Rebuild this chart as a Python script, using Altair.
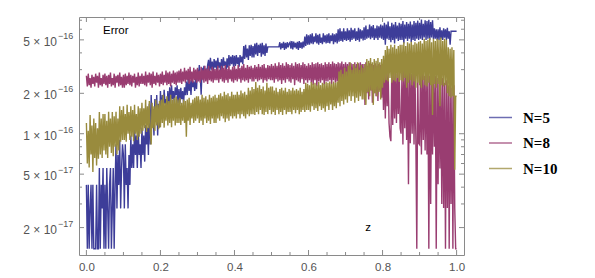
import altair as alt
import pandas as pd

# Error values are written in units of 1e-16
UNIT = 1e-16

# sampling grid in z (0 .. 1, step 0.0025)
z_values = [round(i * 0.0025, 4) for i in range(401)]

err_n5 = [
    0.416, 0.139, 0.416, 0.139, 0.278, 0.416, 0.139, 0.416, 0.139, 0.139, 0.139, 0.416, 0.139, 0.139, 0.555, 0.139, 0.416, 0.278, 0.555, 0.139,
    0.416, 0.139, 0.555, 0.278, 0.139, 0.416, 0.555, 0.139, 0.278, 0.555, 0.139, 0.416, 0.833, 0.278, 0.694, 0.416, 0.9, 0.278, 0.555, 0.833,
    0.694, 0.278, 0.833, 0.416, 0.555, 0.278, 0.694, 0.416, 0.971, 0.555, 0.833, 0.555, 1.11, 0.694, 0.971, 0.555, 1.07, 0.694, 0.833, 0.555,
    1.11, 0.694, 0.971, 0.62, 1.16, 0.833, 1.11, 0.694, 1.67, 0.833, 1.94, 1.11, 1.53, 0.971, 1.81, 1.25, 1.94, 0.971, 1.67, 1.11,
    2.08, 1.39, 1.94, 1.53, 2.12, 1.67, 1.81, 1.39, 2.08, 1.53, 2.22, 1.67, 2.29, 1.81, 2.08, 1.67, 2.22, 1.94, 2.29, 1.67,
    2.15, 1.67, 2.2, 1.81, 2.08, 1.67, 2.22, 1.94, 2.45, 1.94, 2.6, 2.08, 2.5, 1.94, 2.6, 2.22, 2.45, 2.08, 2.55, 2.15,
    3.0, 2.6, 3.25, 2.7, 1.95, 3.1, 2.75, 3.2, 2.65, 3.05, 2.8, 3.25, 3.55, 2.9, 3.67, 3.0, 3.45, 2.9, 3.6, 3.1,
    3.5, 2.95, 3.67, 3.1, 3.4, 2.9, 3.6, 3.0, 3.7, 3.2, 3.45, 2.95, 3.65, 3.1, 3.86, 3.2, 3.75, 3.3, 3.86, 3.15,
    3.8, 3.2, 3.86, 3.3, 3.7, 3.15, 3.85, 3.4, 3.75, 3.3, 4.5, 3.6, 4.6, 3.7, 4.3, 3.55, 4.55, 3.8, 4.6, 3.7,
    4.5, 3.7, 4.7, 3.9, 4.76, 3.8, 4.6, 4.0, 4.7, 3.75, 4.76, 3.9, 4.55, 3.8, 4.7, 4.0, 4.43, 4.43, 4.43, 4.43,
    4.43, 4.43, 4.43, 4.43, 4.43, 4.43, 4.43, 4.43, 4.43, 4.8, 4.25, 4.7, 4.35, 4.83, 4.21, 4.75, 4.3, 4.8, 4.4, 4.7,
    4.8, 4.3, 4.9, 4.25, 4.85, 4.4, 4.75, 4.3, 4.83, 4.21, 4.9, 4.35, 4.8, 4.3, 4.85, 4.4, 5.3, 4.5, 5.5, 4.6,
    5.4, 4.6, 5.5, 4.7, 5.6, 4.65, 5.3, 4.8, 5.6, 4.7, 5.45, 4.6, 5.55, 4.75, 5.2, 4.65, 5.6, 4.8, 5.4, 4.7,
    5.5, 4.75, 5.6, 4.7, 5.4, 4.9, 5.6, 4.65, 5.5, 4.8, 5.6, 4.7, 6.0, 4.85, 6.1, 4.9, 5.8, 4.85, 6.1, 5.0,
    5.8, 4.9, 6.1, 5.0, 5.9, 4.85, 6.15, 5.0, 5.95, 5.1, 6.1, 4.9, 5.8, 5.0, 6.15, 4.85, 6.0, 5.1, 5.9, 4.95,
    6.2, 5.0, 6.4, 5.1, 6.0, 5.2, 6.5, 5.05, 6.3, 5.2, 6.45, 5.0, 6.1, 5.15, 6.4, 5.0, 6.3, 5.2, 6.5, 5.1,
    6.4, 5.0, 6.7, 4.6, 6.5, 5.1, 6.85, 5.0, 6.3, 4.8, 6.7, 5.0, 6.5, 4.7, 6.8, 5.1, 6.4, 4.9, 6.7, 5.0,
    6.6, 5.0, 6.9, 4.7, 6.5, 5.1, 6.8, 4.9, 6.6, 5.1, 6.85, 4.8, 6.5, 5.0, 6.9, 4.9, 6.7, 5.1, 6.95, 5.0,
    6.7, 5.1, 7.1, 5.0, 6.6, 5.2, 7.0, 5.0, 6.9, 5.1, 7.05, 5.0, 6.8, 5.2, 7.0, 5.05, 6.1, 5.1, 6.0, 5.0,
    6.0, 5.0, 6.2, 5.1, 5.9, 5.0, 6.1, 5.2, 6.0, 5.0, 6.15, 5.1, 5.8, 4.6, 5.8, 5.8, 5.8, 5.8, 5.8, 5.8,
    5.8,
]

err_n8 = [
    2.7, 2.25, 2.8, 2.3, 2.6, 2.2, 2.75, 2.35, 2.65, 2.25, 2.8, 2.4, 2.7, 2.2, 2.85, 2.3, 2.6, 2.25, 2.75, 2.35,
    2.8, 2.3, 2.7, 2.2, 2.75, 2.35, 2.85, 2.25, 2.6, 2.3, 2.8, 2.2, 2.7, 2.4, 2.75, 2.25, 2.85, 2.3, 2.65, 2.2,
    2.75, 2.2, 2.8, 2.3, 2.7, 2.35, 2.85, 2.3, 2.75, 2.25, 2.7, 2.4, 2.8, 2.2, 2.65, 2.3, 2.85, 2.25, 2.7, 2.35,
    2.8, 2.35, 2.7, 2.3, 2.9, 2.25, 2.75, 2.4, 2.85, 2.3, 2.8, 2.2, 2.9, 2.35, 2.7, 2.3, 2.85, 2.4, 2.75, 2.25,
    2.8, 2.35, 2.9, 2.3, 2.75, 2.4, 2.95, 2.3, 2.85, 2.35, 2.9, 2.25, 2.8, 2.4, 2.95, 2.35, 2.85, 2.3, 2.9, 2.4,
    2.95, 2.4, 3.05, 2.35, 2.9, 2.45, 3.1, 2.4, 2.95, 2.5, 3.05, 2.35, 3.15, 2.45, 2.9, 2.4, 3.1, 2.5, 3.0, 2.4,
    3.1, 2.45, 2.95, 2.4, 3.15, 2.5, 3.0, 2.4, 3.2, 2.45, 3.05, 2.35, 3.2, 2.5, 2.95, 2.45, 3.15, 2.4, 3.05, 2.5,
    3.05, 2.5, 3.2, 2.4, 3.0, 2.55, 3.2, 2.45, 3.1, 2.4, 3.25, 2.5, 3.05, 2.4, 3.2, 2.55, 3.0, 2.45, 3.15, 2.4,
    3.2, 2.5, 3.05, 2.45, 3.25, 2.55, 3.1, 2.4, 3.2, 2.5, 3.3, 2.45, 3.1, 2.5, 3.25, 2.4, 3.15, 2.55, 3.2, 2.45,
    3.1, 2.45, 3.25, 2.55, 3.15, 2.45, 3.3, 2.5, 3.15, 2.55, 3.25, 2.4, 3.3, 2.5, 3.1, 2.45, 3.25, 2.55, 3.2, 2.5,
    3.3, 2.5, 3.2, 2.4, 3.35, 2.55, 3.2, 2.45, 3.4, 2.5, 3.25, 2.35, 3.35, 2.5, 3.2, 2.4, 3.4, 2.55, 3.3, 2.45,
    3.25, 2.4, 3.35, 2.55, 3.2, 2.3, 3.4, 2.5, 3.3, 2.45, 3.35, 2.4, 3.25, 2.55, 3.4, 2.35, 3.3, 2.5, 3.2, 2.4,
    3.35, 2.5, 3.25, 2.4, 3.4, 2.3, 3.3, 2.5, 3.35, 2.25, 3.4, 2.45, 3.3, 2.4, 3.35, 2.5, 3.25, 2.3, 3.4, 2.45,
    3.3, 2.45, 3.4, 2.5, 3.3, 2.35, 3.45, 2.5, 3.35, 2.4, 3.3, 2.45, 3.4, 2.3, 3.35, 2.5, 3.45, 2.4, 3.3, 2.35,
    3.4, 2.5, 3.3, 2.45, 3.4, 2.3, 3.35, 2.4, 3.3, 2.2, 3.4, 2.35, 3.3, 2.45, 3.35, 2.2, 3.4, 2.4, 3.3, 2.3,
    3.3, 1.64, 3.4, 2.0, 3.2, 1.8, 3.35, 2.1, 3.3, 1.7, 3.25, 2.0, 3.35, 1.9, 3.2, 1.75, 3.3, 2.1, 3.25, 1.85,
    3.2, 1.5, 3.0, 1.3, 3.1, 1.6, 2.9, 1.2, 0.95, 0.88, 3.1, 1.16, 2.9, 1.3, 3.0, 1.2, 2.8, 1.4, 3.0, 1.1,
    1.0, 2.9, 0.83, 3.0, 1.1, 2.8, 0.9, 2.9, 0.42, 3.0, 0.85, 2.8, 1.0, 2.9, 0.83, 3.0, 0.9, 0.139, 2.8, 0.85,
    0.83, 2.8, 0.7, 2.9, 0.9, 2.7, 0.75, 2.9, 0.7, 2.8, 0.139, 2.7, 0.30, 2.8, 0.7, 2.6, 0.8, 2.7, 0.139, 2.6,
    0.42, 2.6, 0.55, 2.5, 0.3, 2.6, 0.28, 2.4, 0.139, 2.5, 0.28, 2.3, 0.139, 2.4, 0.3, 2.2, 0.139, 2.3, 0.28, 0.139,
    0.139,
]

err_n10 = [
    1.2, 0.6, 1.05, 0.56, 1.38, 0.7, 1.15, 0.52, 1.3, 0.66, 1.2, 0.58, 1.1, 0.65, 1.45, 0.7, 1.3, 0.66, 1.4, 0.75,
    1.4, 0.7, 1.25, 0.66, 1.46, 0.8, 1.3, 0.72, 1.45, 0.68, 1.35, 0.8, 1.46, 0.7, 1.3, 0.75, 1.6, 0.87, 1.5, 0.9,
    1.6, 0.9, 1.4, 0.87, 1.64, 1.0, 1.45, 0.9, 1.6, 0.95, 1.5, 0.88, 1.64, 1.0, 1.4, 0.9, 1.6, 0.95, 1.55, 1.0,
    1.7, 1.05, 1.55, 1.1, 1.79, 1.03, 1.6, 1.1, 1.75, 1.05, 0.83, 1.7, 1.1, 1.6, 1.05, 1.79, 1.15, 1.65, 1.08, 1.75,
    1.12, 1.8, 1.2, 1.95, 1.11, 1.7, 1.25, 1.9, 1.15, 1.75, 1.2, 1.95, 1.12, 1.8, 1.25, 1.85, 1.15, 1.9, 1.2, 1.8,
    1.2, 1.85, 1.16, 1.7, 1.25, 1.8, 1.2, 1.75, 0.95, 1.8, 1.25, 1.85, 1.16, 1.7, 1.3, 1.8, 1.2, 1.85, 1.25, 1.9,
    1.3, 1.9, 1.2, 1.8, 1.25, 1.95, 1.16, 1.85, 1.3, 1.9, 1.2, 1.8, 1.25, 1.95, 1.18, 1.85, 1.3, 1.9, 1.2, 1.95,
    1.2, 1.85, 1.3, 1.95, 1.25, 2.0, 1.35, 1.9, 1.3, 2.05, 1.22, 1.95, 1.3, 2.0, 1.25, 1.9, 1.35, 2.05, 1.3, 1.95,
    1.35, 1.95, 1.3, 2.05, 1.4, 1.95, 1.3, 2.1, 1.4, 2.0, 1.35, 2.05, 1.3, 1.95, 1.4, 2.2, 1.35, 2.1, 1.4, 2.23,
    1.4, 2.15, 1.38, 2.43, 1.45, 2.2, 1.4, 2.3, 1.5, 2.15, 1.4, 2.25, 1.38, 2.1, 1.45, 2.4, 1.4, 2.2, 1.5, 2.25,
    1.4, 2.25, 1.45, 2.1, 1.38, 2.2, 1.5, 2.05, 1.4, 2.15, 1.45, 2.2, 1.38, 2.1, 1.5, 2.2, 1.4, 2.05, 1.45, 2.15,
    1.45, 2.1, 1.4, 2.2, 1.5, 2.1, 1.42, 2.15, 1.5, 2.1, 1.4, 2.2, 1.45, 2.05, 1.5, 2.15, 1.45, 2.4, 1.5, 2.35,
    1.5, 2.3, 1.46, 2.43, 1.6, 2.35, 1.5, 2.4, 1.55, 2.3, 1.48, 2.43, 1.6, 2.3, 1.5, 2.4, 1.55, 2.35, 1.46, 2.43,
    1.6, 2.4, 1.5, 2.45, 1.65, 2.35, 1.5, 2.45, 1.6, 2.4, 1.55, 2.45, 1.7, 2.9, 1.6, 3.0, 1.75, 2.8, 1.65, 3.1,
    1.8, 2.9, 1.7, 3.2, 1.9, 3.4, 1.75, 3.0, 1.9, 3.3, 1.7, 3.1, 1.85, 3.4, 1.75, 3.0, 1.9, 3.25, 1.8, 3.1,
    1.8, 3.3, 1.64, 3.6, 2.05, 3.5, 1.9, 3.67, 2.1, 3.4, 1.64, 3.6, 2.0, 3.5, 1.9, 3.67, 2.05, 3.4, 1.8, 3.6,
    2.2, 3.8, 2.4, 4.2, 2.5, 4.5, 2.45, 4.3, 2.6, 4.6, 2.4, 4.4, 2.5, 4.6, 2.45, 4.3, 2.6, 4.5, 2.43, 4.6,
    2.5, 4.6, 2.45, 4.8, 2.6, 4.5, 2.2, 4.8, 2.4, 4.7, 2.5, 4.83, 2.3, 4.6, 2.45, 4.8, 2.2, 4.7, 2.4, 4.83,
    2.3, 4.9, 2.2, 4.7, 2.5, 5.1, 2.3, 4.9, 2.25, 5.0, 2.4, 5.17, 2.3, 4.8, 1.38, 5.1, 2.35, 4.9, 2.2, 5.1,
    2.35, 5.0, 1.6, 5.2, 2.3, 4.9, 2.25, 5.1, 2.3, 5.0, 2.0, 4.4, 1.9, 4.3, 1.85, 4.4, 1.9, 4.2, 0.54, 1.9,
    1.9,
]

series_names = ["N=5", "N=8", "N=10"]
series_colors = ["#3D3D99", "#993D71", "#998B3D"]

x_major = [0.0, 0.2, 0.4, 0.6, 0.8, 1.0]
x_minor = [0.05, 0.1, 0.15, 0.25, 0.3, 0.35, 0.45, 0.5, 0.55,
           0.65, 0.7, 0.75, 0.85, 0.9, 0.95]
y_major = [2e-17, 5e-17, 1e-16, 2e-16, 5e-16]
y_mantissa = ["2 × 10", "5 × 10", "1 × 10", "2 × 10", "5 × 10"]
y_exponent = ["−17", "−17", "−16", "−16", "−16"]
y_minor = [3e-17, 4e-17, 6e-17, 7e-17, 8e-17, 9e-17, 3e-16, 4e-16, 6e-16, 7e-16]

W, H = 385, 238
FRAME = "#8a8a8a"
LABEL = "#555555"

rows = []
for name, vals in zip(series_names, [err_n5, err_n8, err_n10]):
    for z, v in zip(z_values, vals):
        rows.append({"z": z, "err": v * UNIT, "N": name})
df = pd.DataFrame(rows)

xscale = alt.Scale(domain=[-0.02, 1.02], nice=False, zero=False)
yscale = alt.Scale(type="log", domain=[1.25e-17, 7.4e-16], nice=False)
xaxis = alt.Axis(values=x_major, format=".1f", ticks=False, domain=False, grid=False,
                 labelColor=LABEL, labelFontSize=11.5, labelFont="Liberation Sans",
                 labelPadding=6, title=None)

color = alt.Color(
    "N:N",
    scale=alt.Scale(domain=series_names, range=series_colors),
    title=None,
    legend=alt.Legend(orient="none", legendX=409, legendY=88, symbolType="stroke",
                      symbolSize=529, symbolStrokeWidth=1.5, symbolOpacity=0.75,
                      labelFont="Liberation Serif", labelFontWeight="bold",
                      labelFontSize=15, labelColor="black", labelOffset=10,
                      rowPadding=4.5, title=None),
)

layers = []
for name in series_names:
    layers.append(
        alt.Chart(df[df["N"] == name]).mark_line(strokeWidth=1.4, clip=True).encode(
            x=alt.X("z:Q", scale=xscale, axis=xaxis),
            y=alt.Y("err:Q", scale=yscale, axis=None),
            color=color,
        )
    )

xt_major = pd.DataFrame({"z": x_major})
xt_minor = pd.DataFrame({"z": x_minor})
yt_major = pd.DataFrame({"err": y_major, "mant": y_mantissa, "expo": y_exponent})
yt_minor = pd.DataFrame({"err": y_minor})


def xticks(data, length):
    enc_x = alt.X("z:Q", scale=xscale, axis=xaxis)
    bottom = alt.Chart(data).mark_rule(color=FRAME, strokeWidth=1).encode(
        x=enc_x, y=alt.value(H), y2=alt.value(H - length))
    top = alt.Chart(data).mark_rule(color=FRAME, strokeWidth=1).encode(
        x=enc_x, y=alt.value(0), y2=alt.value(length))
    return [bottom, top]


def yticks(data, length):
    enc_y = alt.Y("err:Q", scale=yscale, axis=None)
    left = alt.Chart(data).mark_rule(color=FRAME, strokeWidth=1).encode(
        y=enc_y, x=alt.value(0), x2=alt.value(length))
    right = alt.Chart(data).mark_rule(color=FRAME, strokeWidth=1).encode(
        y=enc_y, x=alt.value(W - length), x2=alt.value(W))
    return [left, right]


tick_layers = xticks(xt_major, 5) + xticks(xt_minor, 3) + yticks(yt_major, 5) + yticks(yt_minor, 3)

ylab_base = alt.Chart(yt_major).mark_text(
    align="right", baseline="middle", dy=2, fontSize=12, font="Liberation Sans", color=LABEL
).encode(y=alt.Y("err:Q", scale=yscale, axis=None), x=alt.value(-22), text="mant:N")
ylab_exp = alt.Chart(yt_major).mark_text(
    align="left", baseline="middle", dy=-4, fontSize=9, font="Liberation Sans", color=LABEL
).encode(y=alt.Y("err:Q", scale=yscale, axis=None), x=alt.value(-21), text="expo:N")

axis_titles = pd.DataFrame({"t": ["Error", "z"]})
title_err = alt.Chart(axis_titles[axis_titles["t"] == "Error"]).mark_text(
    align="left", baseline="alphabetic", fontSize=11.5, font="Liberation Sans", color="black"
).encode(x=alt.value(24), y=alt.value(17), text="t:N")
title_z = alt.Chart(axis_titles[axis_titles["t"] == "z"]).mark_text(
    align="center", baseline="alphabetic", fontSize=11.5, font="Liberation Sans", color="black"
).encode(x=alt.value(289), y=alt.value(214), text="t:N")

chart = alt.layer(*layers, *tick_layers, ylab_base, ylab_exp, title_err, title_z).properties(
    width=W, height=H,
    autosize=alt.AutoSizeParams(type="none"),
    padding={"left": 71, "top": 9, "right": 120, "bottom": 20},
).configure_view(stroke=FRAME, strokeWidth=1)

chart.save("out.html", embed_options={"renderer": "svg", "actions": False})
